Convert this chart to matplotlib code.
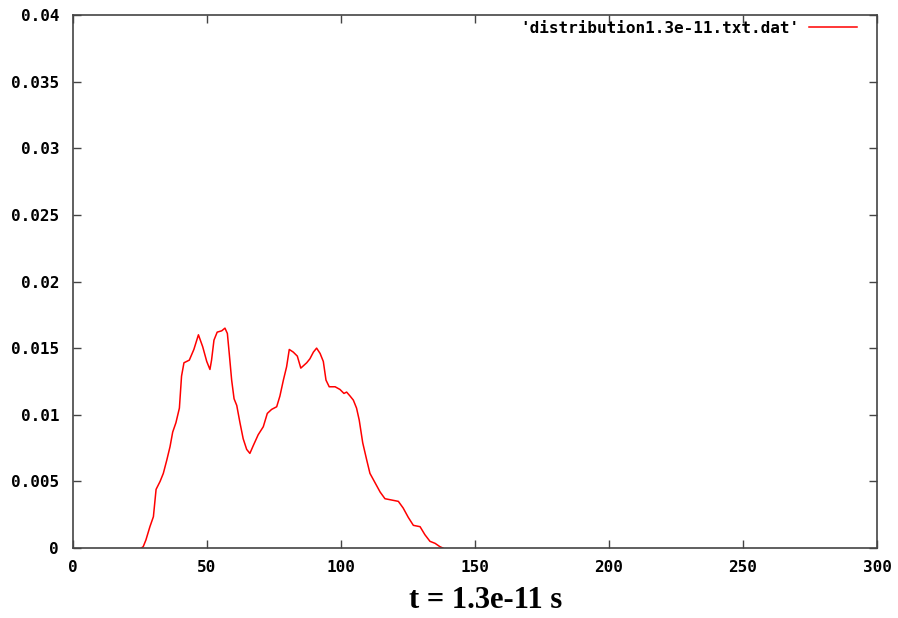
import matplotlib.pyplot as plt

# values
x = [25.5, 26.2, 27.2, 28.7, 30.0, 31.0, 32.5, 33.7, 35.0, 36.2, 37.2, 38.4, 39.7,
     40.5, 41.4, 43.4, 45.1, 46.8, 48.4, 49.9, 51.1, 51.7, 52.6, 53.8, 55.5,
     56.7, 57.6, 58.3, 59.2, 60.1, 61.1, 62.3, 63.5, 64.8, 66.0, 67.3, 69.1,
     71.0, 72.5, 74.1, 76.0, 77.2, 78.5, 79.7, 80.7, 82.2, 83.7, 85.0, 87.2,
     88.4, 89.7, 90.9, 92.2, 93.4, 94.4, 95.6, 97.8, 99.6, 101.1, 102.1, 103.4,
     104.6, 105.8, 106.8, 108.1, 109.6, 110.8, 112.7, 114.6, 116.4, 118.9,
     121.4, 123.2, 125.1, 127.0, 129.5, 131.3, 133.2, 135.1, 136.9, 138.0]
y = [0.0, 0.0001, 0.0006, 0.0016, 0.00235, 0.0044, 0.0050, 0.0056, 0.0066, 0.0076,
     0.0087, 0.0094, 0.0105, 0.0129, 0.0139, 0.0141, 0.0149, 0.0160, 0.0151,
     0.0140, 0.0134, 0.0141, 0.0156, 0.0162, 0.0163, 0.0165, 0.0161, 0.0146,
     0.0126, 0.0112, 0.0107, 0.0094, 0.0082, 0.0074, 0.0071, 0.0077, 0.0085,
     0.0091, 0.0101, 0.0104, 0.0106, 0.0114, 0.0126, 0.0136, 0.0149, 0.0147,
     0.0144, 0.0135, 0.0139, 0.0142, 0.0147, 0.0150, 0.0146, 0.0140, 0.0126,
     0.0121, 0.0121, 0.0119, 0.0116, 0.0117, 0.0114, 0.0111, 0.0105, 0.0096,
     0.0079, 0.0066, 0.0056, 0.0049, 0.0042, 0.0037, 0.0036, 0.0035, 0.0030,
     0.0023, 0.0017, 0.0016, 0.0010, 0.0005, 0.00035, 0.0001, 0.0]

xticks = [0, 50, 100, 150, 200, 250, 300]
yticks = [0, 0.005, 0.01, 0.015, 0.02, 0.025, 0.03, 0.035, 0.04]
ytick_labels = ['0', '0.005', '0.01', '0.015', '0.02', '0.025', '0.03', '0.035', '0.04']

fig = plt.figure(figsize=(8.98, 6.18), dpi=100)
ax = fig.add_axes([73 / 898, 70 / 618, 804 / 898, 533 / 618])

ax.plot(x, y, color='#ff0000', lw=1.1, label="'distribution1.3e-11.txt.dat'")

ax.set_xlim(0, 300)
ax.set_ylim(0, 0.04)
ax.set_xticks(xticks)
ax.set_xticklabels([str(t) for t in xticks])
ax.set_yticks(yticks)
ax.set_yticklabels(ytick_labels)

for lab in ax.get_xticklabels() + ax.get_yticklabels():
    lab.set_fontfamily('DejaVu Sans Mono')
    lab.set_fontweight('bold')
    lab.set_fontsize(11.5)

ax.tick_params(axis='y', direction='in', length=6, width=1, color='#444444',
               right=True, pad=10)
ax.tick_params(axis='x', direction='in', length=6, width=1, color='#444444',
               top=True, pad=9)
for s in ax.spines.values():
    s.set_color('#444444')
    s.set_linewidth(1.2)

leg = ax.legend(loc='upper right', frameon=False, handlelength=3.0,
                handletextpad=0.6, borderpad=0, borderaxespad=0,
                markerfirst=False,
                bbox_to_anchor=((857 - 73) / 804, (548 - 21) / 533),
                prop=dict(family='DejaVu Sans Mono', weight='bold', size=11.5))

fig.text(486 / 898, 18 / 618, 't = 1.3e-11 s', ha='center', va='center',
         family='Liberation Serif', weight='bold', fontsize=22)

fig.savefig('out.png', dpi=100)
